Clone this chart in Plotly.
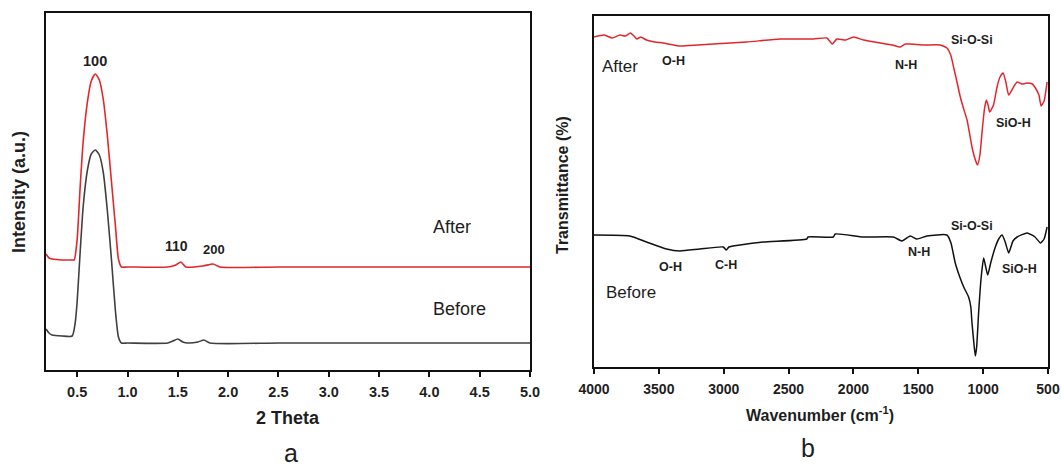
import plotly.graph_objects as go

# ---------------- Panel a : XRD (2 Theta vs Intensity, a.u.) ----------------
xrd_after_theta = [0.19, 0.22, 0.25, 0.35, 0.45, 0.47, 0.50, 0.53, 0.56, 0.60, 0.64, 0.68,
                   0.72, 0.76, 0.80, 0.84, 0.88, 0.91, 0.94, 1.00, 1.40, 1.48, 1.53, 1.58,
                   1.75, 1.85, 1.92, 2.50, 3.50, 4.50, 5.00]
xrd_after_int = [116, 112, 111, 110, 110, 110, 131, 184, 229, 267, 289, 296,
                 290, 270, 234, 189, 144, 111, 103, 103, 103, 105, 108, 103,
                 104, 106, 103, 103, 103, 103, 103]

xrd_before_theta = [0.19, 0.22, 0.25, 0.35, 0.45, 0.48, 0.50, 0.53, 0.56, 0.60, 0.64, 0.68,
                    0.72, 0.76, 0.80, 0.84, 0.88, 0.91, 0.94, 1.00, 1.40, 1.45, 1.50, 1.55,
                    1.60, 1.70, 1.76, 1.82, 2.50, 3.50, 4.50, 5.00]
xrd_before_int = [41, 37, 35, 34, 34, 47, 69, 119, 164, 199, 216, 220,
                  215, 197, 159, 111, 59, 33, 27, 27, 27, 29, 31, 28,
                  27, 28, 30, 27, 27, 27, 27, 27]

xrd_ticks = [0.5, 1.0, 1.5, 2.0, 2.5, 3.0, 3.5, 4.0, 4.5, 5.0]
xrd_peak_labels = ["100", "110", "200"]
xrd_peak_pos = [(0.68, 309), (1.49, 124), (1.86, 121)]
xrd_peak_sizes = [14.5, 14, 13]

# ---------------- Panel b : FTIR (Wavenumber vs Transmittance) ----------------
ir_after_wn = [4000, 3920, 3860, 3800, 3760, 3720, 3699, 3670, 3640, 3595, 3530, 3467,
               3338, 3200, 3081, 2823, 2566, 2309, 2205, 2162, 2128, 2060, 2000, 1923,
               1794, 1700, 1640, 1600, 1562, 1450, 1332, 1279, 1250, 1228, 1200, 1176,
               1150, 1124, 1086, 1060, 1043, 1025, 1009, 990, 975, 960, 950, 920,
               893, 870, 846, 825, 803, 770, 738, 700, 661, 620, 597, 570, 553, 530, 507]
ir_after_t = [330, 332, 329, 332, 331, 334, 332, 328, 330, 327, 325, 324,
              321, 322, 323, 325, 328, 328, 329, 323, 328, 327, 330, 327,
              324, 322, 320, 323, 323, 322, 322, 319, 312, 300, 284, 270,
              258, 247, 220, 207, 202, 212, 234, 258, 267, 261, 255, 262,
              280, 290, 294, 285, 272, 279, 285, 283, 284, 283, 279, 272, 261, 266, 285]

ir_before_wn = [4000, 3724, 3595, 3441, 3338, 3184, 3004, 2980, 2960, 2875, 2695, 2360,
                2350, 2155, 2140, 1923, 1691, 1626, 1562, 1511, 1434, 1279, 1248, 1215,
                1180, 1150, 1112, 1095, 1086, 1070, 1060, 1050, 1035, 1015, 996, 980,
                965, 940, 906, 880, 854, 830, 803, 770, 738, 661, 600, 558, 530, 507]
ir_before_t = [132, 131, 125, 118, 116, 118, 120, 117, 120, 122, 125, 128,
               130, 130, 133, 130, 130, 126, 131, 128, 131, 132, 124, 104,
               90, 80, 70, 60, 44, 22, 11, 20, 54, 90, 109, 100,
               92, 105, 120, 128, 132, 125, 114, 126, 130, 134, 130, 124, 128, 140]

ir_ticks = [4000, 3500, 3000, 2500, 2000, 1500, 1000, 500]
ir_after_labels = ["O-H", "N-H", "Si-O-Si", "SiO-H"]
ir_after_label_pos = [(3390, 306), (1595, 302), (1086, 327), (764, 244)]
ir_before_labels = ["O-H", "C-H", "N-H", "Si-O-Si", "SiO-H"]
ir_before_label_pos = [(3410, 100), (2985, 102), (1493, 115), (1086, 141), (720, 98)]

RED = "#e3262b"
XRD_BLACK = "#404040"
IR_BLACK = "#111111"
TXT = "#1e1e1e"
FONT = "Arial, Liberation Sans, sans-serif"

fig = go.Figure()
fig.add_trace(go.Scatter(x=xrd_after_theta, y=xrd_after_int, mode="lines",
                         line=dict(color=RED, width=1.6, shape="spline", smoothing=0.6),
                         xaxis="x", yaxis="y", showlegend=False))
fig.add_trace(go.Scatter(x=xrd_before_theta, y=xrd_before_int, mode="lines",
                         line=dict(color=XRD_BLACK, width=1.6, shape="spline", smoothing=0.6),
                         xaxis="x", yaxis="y", showlegend=False))
fig.add_trace(go.Scatter(x=ir_after_wn, y=ir_after_t, mode="lines",
                         line=dict(color=RED, width=1.5, shape="spline", smoothing=0.5),
                         xaxis="x2", yaxis="y2", showlegend=False))
fig.add_trace(go.Scatter(x=ir_before_wn, y=ir_before_t, mode="lines",
                         line=dict(color=IR_BLACK, width=1.5, shape="spline", smoothing=0.5),
                         xaxis="x2", yaxis="y2", showlegend=False))

W, H = 1061, 469
axis_common = dict(showline=True, mirror=True, linecolor="#111111", linewidth=1.6,
                   showgrid=False, zeroline=False)
fig.update_layout(
    width=W, height=H, margin=dict(l=0, r=0, t=0, b=0, autoexpand=False),
    paper_bgcolor="white", plot_bgcolor="white",
    font=dict(family=FONT, color=TXT),
    xaxis=dict(domain=[46 / W, 530 / W], range=[0.19, 5.0], tickvals=xrd_ticks,
               ticktext=[f"{v:.1f}" for v in xrd_ticks], ticks="outside", ticklen=5,
               tickwidth=1.5, tickcolor="#111111", ticklabelstandoff=3,
               tickfont=dict(family=FONT, size=14.5, color=TXT, weight="bold"),
               anchor="y", **axis_common),
    yaxis=dict(domain=[1 - 370 / H, 1 - 13.3 / H], range=[0, 356.7], showticklabels=False,
               ticks="", anchor="x", **axis_common),
    xaxis2=dict(domain=[594 / W, 1048 / W], range=[4000, 500], tickvals=ir_ticks,
                ticks="outside", ticklen=5, tickwidth=1.5, tickcolor="#111111",
                ticklabelstandoff=3,
                tickfont=dict(family=FONT, size=14, color=TXT, weight="bold"),
                anchor="y2", **axis_common),
    yaxis2=dict(domain=[1 - 367 / H, 1 - 16 / H], range=[0, 351], showticklabels=False,
                ticks="", anchor="x2", **axis_common),
)

C = dict(xanchor="center", yanchor="middle", showarrow=False)
ann = []
for lab, (px, py), sz in zip(xrd_peak_labels, xrd_peak_pos, xrd_peak_sizes):
    ann.append(dict(x=px, y=py, xref="x", yref="y", text=lab,
                    font=dict(size=sz, weight="bold", color=TXT), **C))
ann.append(dict(x=4.22, y=143, xref="x", yref="y", text="After",
                font=dict(size=18, color=TXT), **C))
ann.append(dict(x=4.30, y=61, xref="x", yref="y", text="Before",
                font=dict(size=18, color=TXT), **C))
for lab, (px, py) in zip(ir_after_labels, ir_after_label_pos):
    ann.append(dict(x=px, y=py, xref="x2", yref="y2", text=lab,
                    font=dict(size=12.5, weight="bold", color=TXT), **C))
for lab, (px, py) in zip(ir_before_labels, ir_before_label_pos):
    ann.append(dict(x=px, y=py, xref="x2", yref="y2", text=lab,
                    font=dict(size=12.5, weight="bold", color=TXT), **C))
ann.append(dict(x=3801, y=300, xref="x2", yref="y2", text="After",
                font=dict(size=17, color=TXT), **C))
ann.append(dict(x=3711, y=75, xref="x2", yref="y2", text="Before",
                font=dict(size=17, color=TXT), **C))

# axis titles and panel letters
ann.append(dict(x=288 / W, y=1 - 418 / H, xref="paper", yref="paper", text="2 Theta",
                font=dict(size=18, weight="bold", color=TXT), **C))
ann.append(dict(x=19 / W, y=1 - 192 / H, xref="paper", yref="paper", text="Intensity (a.u.)",
                textangle=-90, font=dict(size=18, weight="bold", color=TXT), **C))
ann.append(dict(x=820 / W, y=1 - 414 / H, xref="paper", yref="paper",
                text="Wavenumber (cm<sup>-1</sup>)",
                font=dict(size=16, weight="bold", color=TXT), **C))
ann.append(dict(x=562 / W, y=1 - 185 / H, xref="paper", yref="paper", text="Transmittance (%)",
                textangle=-90, font=dict(size=16, weight="bold", color=TXT), **C))
ann.append(dict(x=291 / W, y=1 - 453 / H, xref="paper", yref="paper", text="a",
                font=dict(size=25, color=TXT), xanchor="center", yanchor="middle",
                showarrow=False))
ann.append(dict(x=808 / W, y=1 - 448 / H, xref="paper", yref="paper", text="b",
                font=dict(size=25, color=TXT), **C))
fig.update_layout(annotations=ann)

fig.write_html("out.html", config={"displayModeBar": False},
               post_script="document.body.style.margin='0';document.body.style.overflow='hidden';")
